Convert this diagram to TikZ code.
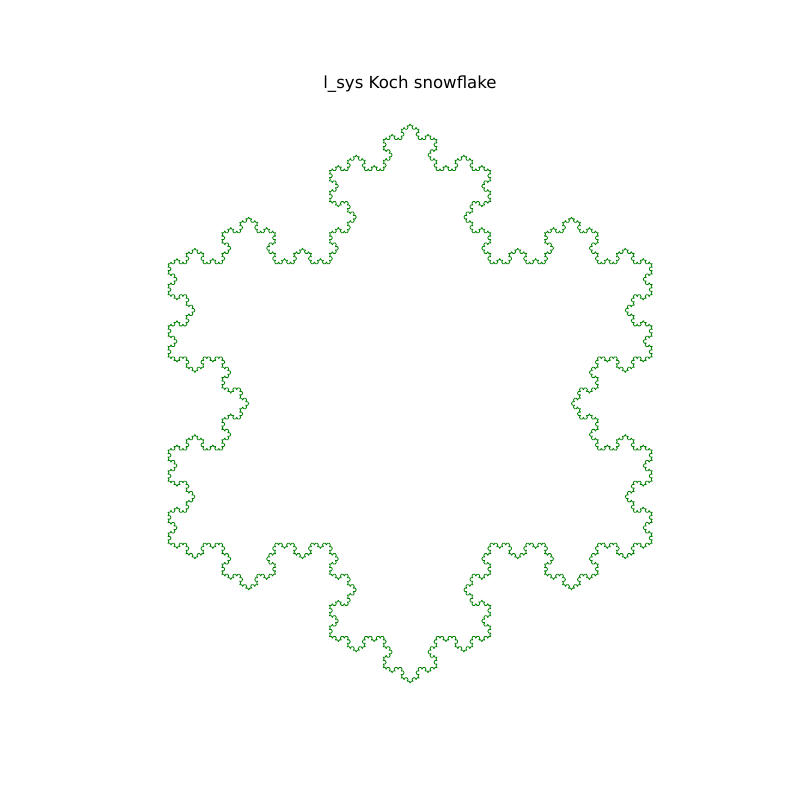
\documentclass[tikz,border=0pt]{standalone}
\usepackage{fontspec}
\setmainfont{DejaVu Sans}
\usepackage{tikz}
\usetikzlibrary{lindenmayersystems}
\definecolor{curvegreen}{HTML}{008000}
\pgfdeclarelindenmayersystem{koch snowflake}{\rule{F -> F+F--F+F}}

\begin{document}
\begin{tikzpicture}[x=0.02cm,y=0.02cm]
\useasboundingbox (0,0) rectangle (800,800);
\node[font=\fontsize{9.45}{11}\selectfont] (title) at (410,716) {l\_sys Koch snowflake};
\draw[curvegreen,line width=0.45pt,line join=round,shift={(168.0,536.25)},
  l-system={koch snowflake, axiom=F--F--F, order=5, angle=60, step=0.03985cm}]
  (0,0) lindenmayer system;
\end{tikzpicture}
\end{document}
